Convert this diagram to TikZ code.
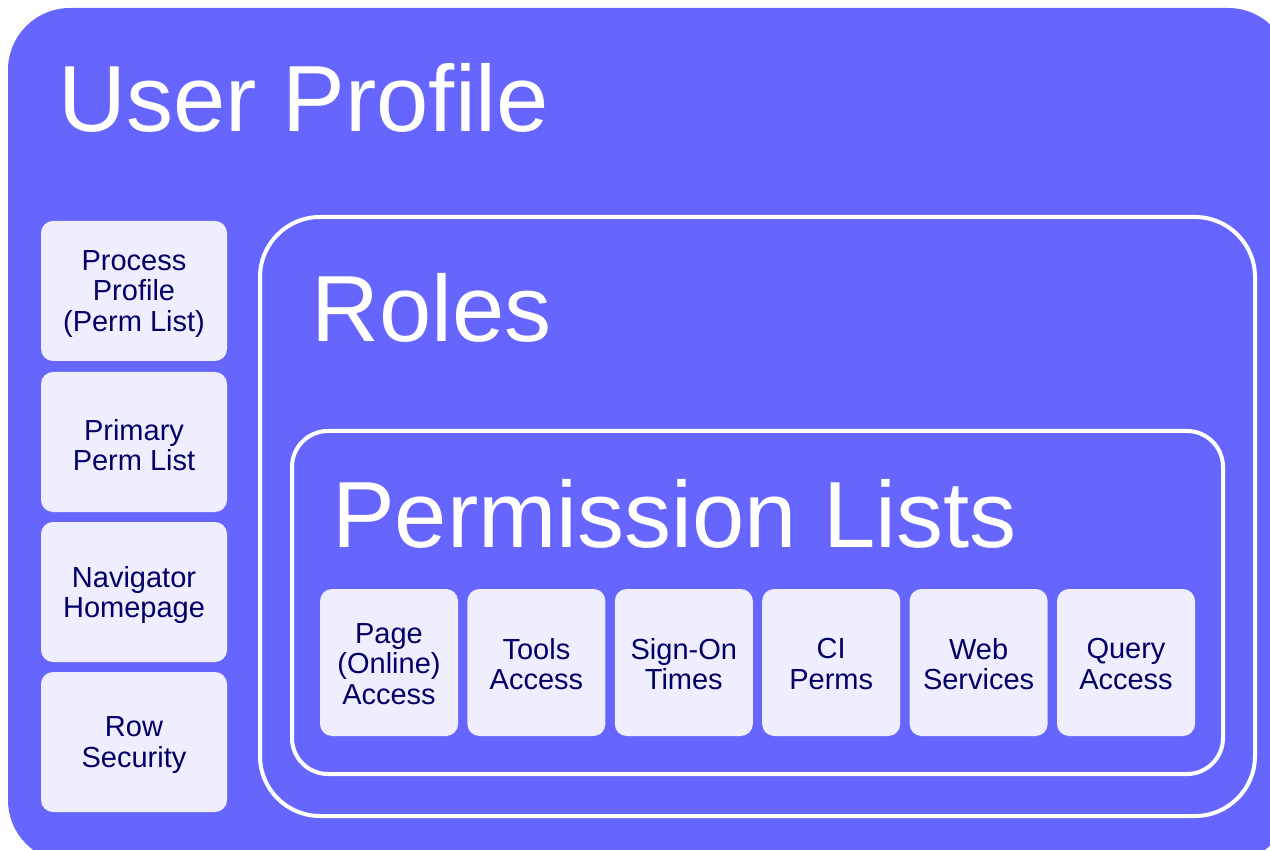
\documentclass[tikz,border=0pt]{standalone}
\usepackage{fontspec}
\setmainfont{Liberation Sans}
\definecolor{mainblue}{HTML}{6666FF}
\definecolor{lightbox}{HTML}{EEEEFF}
\definecolor{navy}{HTML}{000066}
\begin{document}
\begin{tikzpicture}[x=1pt,y=-1pt,
  smallbox/.style={fill=lightbox,rounded corners=12pt,draw=none},
  smalltext/.style={text=navy,align=center,font=\fontsize{29}{30.5}\selectfont},
  bigtext/.style={text=white,anchor=base west,inner sep=0pt,font=\fontsize{94}{100}\selectfont},
  whiteframe/.style={draw=white,line width=4pt}]
\useasboundingbox (0,0) rectangle (1270,850);
\begin{scope}
\clip (0,0) rectangle (1270,850);
\fill[mainblue,rounded corners=62pt] (8,8) rectangle (1290,862);
\end{scope}
\node[bigtext] (up) at (58,132) {User Profile};
% left boxes
\foreach \n/\y/\t in {pp/221/{Process\\Profile\\(Perm List)}, pl/372/{Primary\\Perm List}, nh/522/{Navigator\\Homepage}, rs/672/{Row\\Security}}{
  \fill[smallbox] (41,\y) rectangle (227,\y+140);
  \node[smalltext] (\n) at (134,\y+73) {\t};
}
% roles frame
\draw[whiteframe,rounded corners=60pt] (260,217) rectangle (1255,816);
\node[bigtext] (roles) at (311,342) {Roles};
% permission lists frame
\draw[whiteframe,rounded corners=36pt] (292,431) rectangle (1223,774);
\node[bigtext] (perm) at (332,547) {Permission Lists};
% inner boxes
\foreach \n/\x/\t in {pa/320/{Page\\(Online)\\Access}, ta/467.4/{Tools\\Access}, so/614.8/{Sign-On\\Times}, ci/762.2/{CI\\Perms}, ws/909.6/{Web\\Services}, qa/1057/{Query\\Access}}{
  \fill[smallbox] (\x,589) rectangle (\x+138,736);
  \node[smalltext] (\n) at (\x+69,664) {\t};
}
\end{tikzpicture}
\end{document}
